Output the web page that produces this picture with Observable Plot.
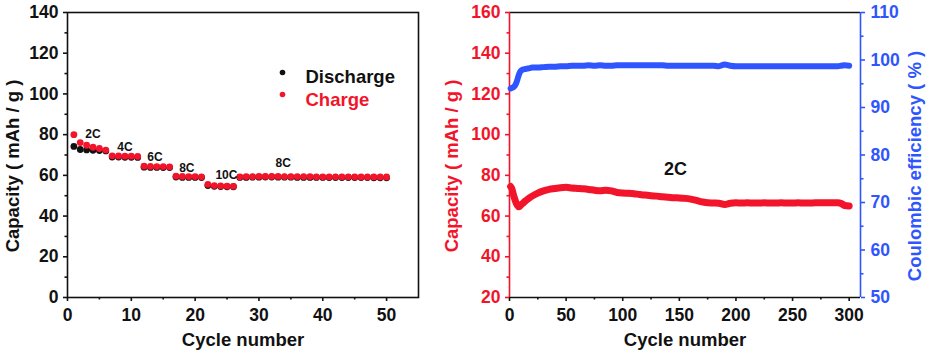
<!DOCTYPE html>
<html><head><meta charset="utf-8">
<script src="https://cdn.jsdelivr.net/npm/d3@7"></script>
<script src="https://cdn.jsdelivr.net/npm/@observablehq/plot@0.6"></script>
<style>
html,body{margin:0;padding:0;background:#fff;}
#chart{position:relative;width:930px;height:361px;overflow:hidden;background:#fff;}
#chart svg{position:absolute;top:0;}
</style></head><body><div id="chart"></div>
<script>
// ---------- Left panel: rate capability ----------
const cycles = d3.range(1, 51);
const discharge = [74.2, 72.7, 72.5, 72.3, 72.2, 72.0,
  69.0, 69.0, 68.9, 68.9, 68.8,
  64.0, 63.9, 63.9, 63.8, 63.8,
  59.2, 59.0, 59.0, 59.0, 58.9,
  55.0, 54.6, 54.5, 54.4, 54.4,
  59.0, 59.0, 59.1, 59.1, 59.2, 59.2, 59.1, 59.1, 59.1, 59.0, 59.0, 59.0,
  59.0, 59.0, 58.9, 58.9, 58.9, 58.9, 58.9, 58.9, 58.9, 58.8, 58.8, 58.8];
const charge = [80.0, 76.1, 74.8, 73.8, 73.2, 72.4,
  69.6, 69.5, 69.4, 69.4, 69.3,
  64.5, 64.4, 64.3, 64.3, 64.2,
  59.6, 59.5, 59.4, 59.4, 59.3,
  55.6, 55.0, 54.8, 54.7, 54.6,
  59.3, 59.4, 59.4, 59.5, 59.5, 59.5, 59.5, 59.4, 59.4, 59.4, 59.4, 59.4,
  59.3, 59.3, 59.3, 59.3, 59.3, 59.3, 59.3, 59.2, 59.2, 59.2, 59.2, 59.2];
const rateLabels = ["2C", "4C", "6C", "8C", "10C", "8C"];
const rateLabelX = [4.0, 9.0, 13.7, 18.7, 24.9, 33.8];
const rateLabelY = [80.0, 73.7, 68.8, 63.4, 59.9, 65.8];
const legendLabels = ["Discharge", "Charge"];
const leftXDomain = [0, 55];
const leftYDomain = [0, 140];
const leftXMajor = [0, 10, 20, 30, 40, 50];
const leftXMinor = [5, 15, 25, 35, 45];
const leftYMajor = [0, 20, 40, 60, 80, 100, 120, 140];
const leftYMinor = [10, 30, 50, 70, 90, 110, 130];

// ---------- Right panel: long cycling at 2C ----------
const sampleCycles = [1, 2, 3, 4, 5, 6, 7, 8, 9, 10, 12, 14, 16, 18, 20,
  25, 30, 35, 40, 45, 50, 55, 60, 65, 70, 75, 80, 85, 90, 95, 100,
  105, 110, 115, 120, 125, 130, 135, 140, 145, 150, 155, 160, 165, 170, 175, 180,
  185, 190, 195, 200, 205, 210, 215, 220, 225, 230, 235, 240, 245, 250, 255, 260,
  265, 270, 275, 280, 285, 290, 293, 296, 300];
const capValues = [74.5, 73.6, 71.5, 69.5, 67.8, 66.3, 65.3, 64.6, 64.8, 65.4, 66.4, 67.4, 68.3, 69.1, 69.8,
  71.3, 72.4, 73.1, 73.5, 73.9, 74.1, 73.8, 73.6, 73.4, 73.1, 72.7, 72.4, 72.7, 72.4, 71.6, 71.3,
  71.2, 71.0, 70.6, 70.3, 70.0, 69.8, 69.5, 69.3, 69.0, 68.9, 68.7, 68.3, 67.7, 67.0, 66.5, 66.4,
  66.3, 65.7, 66.3, 66.5, 66.4, 66.5, 66.4, 66.4, 66.5, 66.4, 66.4, 66.5, 66.4, 66.4, 66.5, 66.4,
  66.4, 66.5, 66.5, 66.6, 66.6, 66.6, 66.2, 65.2, 65.0];
const ceValues = [94.0, 94.1, 94.2, 94.4, 94.7, 95.2, 95.9, 96.7, 97.3, 97.7, 98.0, 98.1, 98.2, 98.3, 98.4,
  98.4, 98.5, 98.6, 98.6, 98.7, 98.7, 98.8, 98.8, 98.8, 98.9, 98.8, 98.9, 98.8, 98.8, 98.9, 98.9,
  98.9, 98.9, 98.9, 98.9, 98.9, 98.9, 98.9, 98.8, 98.8, 98.8, 98.8, 98.8, 98.8, 98.8, 98.8, 98.8,
  98.7, 99.05, 98.8, 98.7, 98.7, 98.7, 98.7, 98.7, 98.7, 98.7, 98.7, 98.7, 98.7, 98.7, 98.7, 98.7,
  98.7, 98.7, 98.7, 98.7, 98.7, 98.7, 98.8, 98.9, 98.8];
const rightXDomain = [0, 310];
const capDomain = [20, 160];
const ceDomain = [50, 110];
const rightXMajor = [0, 50, 100, 150, 200, 250, 300];
const rightXMinor = [25, 75, 125, 175, 225, 275];
const capMajor = [20, 40, 60, 80, 100, 120, 140, 160];
const capMinor = [30, 50, 70, 90, 110, 130, 150];
const ceMajor = [50, 60, 70, 80, 90, 100, 110];
const ceMinor = [55, 65, 75, 85, 95, 105];
const rightNote = ["2C"];
const rightNoteX = [146.5];
const rightNoteY = [82.9];

// ---------- styling ----------
const FONT = '"Liberation Sans", Arial, Helvetica, sans-serif';
const INK = "#111111";
const RED = "#f2142a";
const BLUE = "#2f55ff";
const baseStyle = {background: "transparent", fontFamily: FONT, fontWeight: "bold", overflow: "visible"};
const TICK = 17.5, TITLE = 18.5;

const chart = document.getElementById("chart");

const left = Plot.plot({
  width: 450, height: 361,
  marginLeft: 67, marginRight: 32, marginTop: 12, marginBottom: 64,
  x: {domain: leftXDomain, axis: null},
  y: {domain: leftYDomain, axis: null},
  style: baseStyle,
  marks: [
    Plot.frame({stroke: INK, strokeWidth: 1.6}),
    Plot.axisX(leftXMajor, {tickSize: 4, tickPadding: 7, fontSize: TICK, label: null, color: INK, strokeWidth: 1.6}),
    Plot.axisX(leftXMinor, {tickSize: 2.5, fill: "none", label: null, stroke: INK, strokeWidth: 1.6}),
    Plot.axisY(leftYMajor, {tickSize: 4, tickPadding: 5, fontSize: TICK, label: null, color: INK, strokeWidth: 1.6}),
    Plot.axisY(leftYMinor, {tickSize: 2.5, fill: "none", label: null, stroke: INK, strokeWidth: 1.6}),
    Plot.dot(cycles, {x: d => d, y: (d, i) => discharge[i], r: 3.4, fill: INK}),
    Plot.dot(cycles, {x: d => d, y: (d, i) => charge[i], r: 3.4, fill: RED}),
    Plot.text(rateLabels, {x: (d, i) => rateLabelX[i], y: (d, i) => rateLabelY[i], text: d => d, fontSize: 12, fontWeight: "bold", fill: INK}),
    Plot.text(["Capacity ( mAh / g )"], {text: d => d, frameAnchor: "left", textAnchor: "middle", rotate: -90, dx: -54, dy: 11, fontSize: TITLE, fontWeight: "bold", fill: INK}),
    Plot.text(["Cycle number"], {text: d => d, frameAnchor: "bottom", dy: 48, fontSize: TITLE, fontWeight: "bold", fill: INK}),
    Plot.dot([legendLabels[0]], {frameAnchor: "top-left", dx: 215, dy: 60, r: 2.8, fill: INK}),
    Plot.text([legendLabels[0]], {text: d => d, frameAnchor: "top-left", dx: 238, dy: 57, textAnchor: "start", fontSize: TITLE, fontWeight: "bold", fill: INK}),
    Plot.dot([legendLabels[1]], {frameAnchor: "top-left", dx: 215, dy: 82, r: 2.8, fill: RED}),
    Plot.text([legendLabels[1]], {text: d => d, frameAnchor: "top-left", dx: 238, dy: 80, textAnchor: "start", fontSize: TITLE, fontWeight: "bold", fill: RED})
  ]
});
left.style.left = "0px";
chart.appendChild(left);

const rightA = Plot.plot({
  width: 480, height: 361,
  marginLeft: 59, marginRight: 70, marginTop: 12, marginBottom: 64,
  x: {domain: rightXDomain, axis: null},
  y: {domain: capDomain, axis: null},
  style: baseStyle,
  marks: [
    Plot.ruleY([capDomain[1]], {stroke: INK, strokeWidth: 1.6}),
    Plot.ruleY([capDomain[0]], {stroke: INK, strokeWidth: 1.6}),
    Plot.axisX(rightXMajor, {tickSize: 4, tickPadding: 7, fontSize: TICK, label: null, color: INK, strokeWidth: 1.6}),
    Plot.axisX(rightXMinor, {tickSize: 2.5, fill: "none", label: null, stroke: INK, strokeWidth: 1.6}),
    Plot.axisY(capMajor, {tickSize: 4, tickPadding: 5, fontSize: TICK, label: null, color: RED, strokeWidth: 1.6}),
    Plot.axisY(capMinor, {tickSize: 2.5, fill: "none", label: null, stroke: RED, strokeWidth: 1.6}),
    Plot.ruleX([rightXDomain[0]], {stroke: RED, strokeWidth: 1.6}),
    Plot.line(sampleCycles, {x: d => d, y: (d, i) => capValues[i], stroke: RED, strokeWidth: 7, strokeLinecap: "round", strokeLinejoin: "round", curve: "monotone-x"}),
    Plot.text(rightNote, {x: (d, i) => rightNoteX[i], y: (d, i) => rightNoteY[i], text: d => d, fontSize: 18, fontWeight: "bold", fill: INK}),
    Plot.text(["Capacity ( mAh / g )"], {text: d => d, frameAnchor: "left", textAnchor: "middle", rotate: -90, dx: -57, dy: 11, fontSize: TITLE, fontWeight: "bold", fill: RED}),
    Plot.text(["Cycle number"], {text: d => d, frameAnchor: "bottom", dy: 48, fontSize: TITLE, fontWeight: "bold", fill: INK})
  ]
});
rightA.style.left = "450px";
chart.appendChild(rightA);

const rightB = Plot.plot({
  width: 480, height: 361,
  marginLeft: 59, marginRight: 70, marginTop: 12, marginBottom: 64,
  x: {domain: rightXDomain, axis: null},
  y: {domain: ceDomain, axis: null},
  style: baseStyle,
  marks: [
    Plot.ruleX([rightXDomain[1]], {stroke: BLUE, strokeWidth: 1.6}),
    Plot.axisY(ceMajor, {anchor: "right", tickSize: 4, tickPadding: 6, fontSize: TICK, label: null, color: BLUE, strokeWidth: 1.6}),
    Plot.axisY(ceMinor, {anchor: "right", tickSize: 2.5, fill: "none", label: null, stroke: BLUE, strokeWidth: 1.6}),
    Plot.line(sampleCycles, {x: d => d, y: (d, i) => ceValues[i], stroke: BLUE, strokeWidth: 6, strokeLinecap: "round", strokeLinejoin: "round", curve: "monotone-x"}),
    Plot.text(["Coulombic efficiency ( % )"], {text: d => d, frameAnchor: "right", textAnchor: "middle", rotate: -90, dx: 55, dy: 11, fontSize: TITLE, fontWeight: "bold", fill: BLUE})
  ]
});
rightB.style.left = "450px";
chart.appendChild(rightB);
</script></body></html>
